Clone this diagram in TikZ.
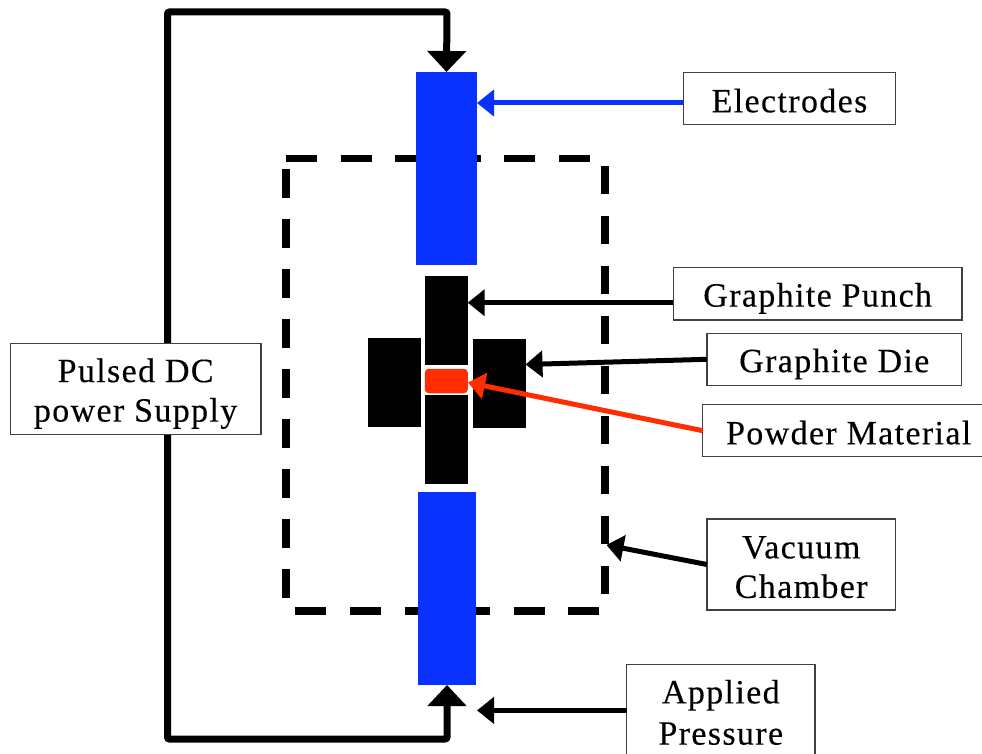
\documentclass[tikz,border=0pt]{standalone}
\usepackage{fontspec}
\setmainfont{Liberation Serif}[LetterSpace=4,FakeBold=0.25]
\usetikzlibrary{arrows.meta}
\definecolor{elecblue}{HTML}{0A32FF}
\definecolor{powred}{HTML}{FF2D00}
\definecolor{boxgray}{HTML}{404040}
\newcommand{\lstr}{\rule[-5.8pt]{0pt}{38.8pt}}
\tikzset{
  part/.style={draw=none,inner sep=0pt,outer sep=0pt,rectangle},
  labelbox/.style={draw=boxgray,line width=1.2pt,fill=white,inner sep=0pt,outer sep=0pt,align=center,
    font=\fontsize{34}{39.5}\selectfont,rectangle},
  ptr/.style={line width=5pt,-{Triangle[length=17pt,width=26pt]}},
  wire/.style={line width=7pt,{Triangle[length=21pt,width=38pt]}-{Triangle[length=21pt,width=38pt]},rounded corners=2pt},
  chamber/.style={line width=7.5pt,black}
}
\begin{document}
\begin{tikzpicture}[x=1pt,y=-1pt]
\useasboundingbox (0,0) rectangle (982,754);
\clip (0,0) rectangle (982,754);
% vacuum chamber
\coordinate (chTL) at (286,158.3);
\coordinate (chTR) at (590,158.3);
\coordinate (chBL) at (295.3,611);
\coordinate (chBR) at (599.3,611);
\draw[chamber,dash pattern=on 31pt off 23.6pt] (chTL) -- (chTR);
\draw[chamber,dash pattern=on 31pt off 23.6pt] (chBL) -- (chBR);
\coordinate (chLa) at (286,169.3);
\coordinate (chLb) at (286,598.3);
\coordinate (chRa) at (605,165.7);
\coordinate (chRb) at (605,595);
\draw[chamber,dash pattern=on 28.7pt off 21.3pt] (chLa) -- (chLb);
\draw[chamber,dash pattern=on 28.7pt off 21.3pt] (chRa) -- (chRb);
% parts
\node[part,fill=elecblue,minimum width=61pt,minimum height=193pt] (elecT) at (446.5,168.5) {};
\node[part,fill=elecblue,minimum width=58pt,minimum height=193pt] (elecB) at (447,588.5) {};
\node[part,fill=black,minimum width=42.7pt,minimum height=89pt] (punchT) at (446.3,320.5) {};
\node[part,fill=black,minimum width=42.7pt,minimum height=89pt] (punchB) at (446.3,439.5) {};
\node[part,fill=black,minimum width=53.3pt,minimum height=88.7pt] (dieL) at (394.7,382.7) {};
\node[part,fill=black,minimum width=53pt,minimum height=88.7pt] (dieR) at (499,383.4) {};
\node[part,fill=powred,minimum width=43pt,minimum height=24.5pt,rounded corners=4pt] (powder) at (446.3,381) {};
% wire
\coordinate (wireTR) at (447,12);
\coordinate (wireTL) at (167.5,12);
\coordinate (wireBL) at (167.5,739);
\coordinate (wireBR) at (447,739);
\draw[wire] (elecT.north) -- (wireTR) -- (wireTL) -- (wireBL) -- (wireBR) -- (elecB.south);
% labels
\node[labelbox,minimum width=212pt,minimum height=52pt] (lElec) at (789.5,98.7) {\lstr Electrodes};
\node[labelbox,minimum width=288.5pt,minimum height=52.5pt] (lPunch) at (817.7,293.7) {\lstr Graphite Punch};
\node[labelbox,minimum width=254.7pt,minimum height=52pt] (lDie) at (834.3,359.3) {\lstr Graphite Die};
\node[labelbox,minimum width=292pt,minimum height=52pt] (lPowder) at (848.7,430.7) {\lstr Powder Material};
\node[labelbox,minimum width=188.5pt,minimum height=91pt] (lVac) at (801.2,564.5) {\lstr Vacuum\\\lstr Chamber};
\node[labelbox,minimum width=250.7pt,minimum height=91.4pt] (lPulse) at (135.6,389) {\lstr Pulsed DC\\\lstr power Supply};
\node[labelbox,minimum width=188.3pt,minimum height=91.4pt] (lPress) at (720.8,710.4) {\lstr Applied\\\lstr Pressure};
% pointers
\coordinate (tipElec) at (477,103);
\coordinate (tipPunch) at (467.7,302.7);
\coordinate (tipDie) at (525.5,364.5);
\coordinate (tipPowder) at (468,382.5);
\coordinate (tipVac) at (606.5,545);
\coordinate (tipPress) at (477,710.4);
\draw[ptr,elecblue] (lElec.west |- tipElec) -- (tipElec);
\draw[ptr] (lPunch.west |- tipPunch) -- (tipPunch);
\draw[ptr] (lDie.west) -- (tipDie);
\draw[ptr,powred] (lPowder.west) -- (tipPowder);
\draw[ptr] (lVac.west) -- (tipVac);
\draw[ptr] (lPress.west) -- (tipPress);
\end{tikzpicture}
\end{document}
